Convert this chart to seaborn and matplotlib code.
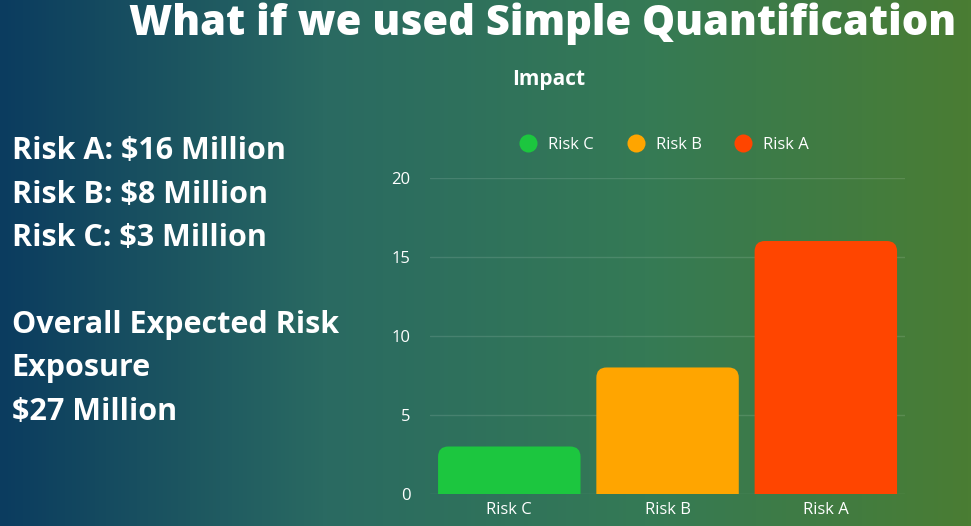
import numpy as np
import pandas as pd
import matplotlib
matplotlib.use("Agg")
import matplotlib.pyplot as plt
from matplotlib.patches import FancyBboxPatch
from matplotlib.lines import Line2D
from matplotlib.colors import LinearSegmentedColormap
import seaborn as sns

# data
risks = ["Risk C", "Risk B", "Risk A"]
impact = [3, 8, 16]
bar_colors = ["#1cc63f", "#ffa500", "#ff4500"]
y_ticks = [0, 5, 10, 15, 20]
side_lines = ["Risk A: $16 Million", "Risk B: $8 Million", "Risk C: $3 Million", "",
              "Overall Expected Risk", "Exposure", "$27 Million"]

sns.set_theme(style="white")
plt.rcParams['font.family'] = ['Open Sans', 'DejaVu Sans']

fig = plt.figure(figsize=(9.71, 5.26), dpi=100)

# gradient background
bg = fig.add_axes([0, 0, 1, 1])
cmap = LinearSegmentedColormap.from_list("bg", ["#0b3c5f", "#2a6a62", "#357a55", "#4a7d33"])
bg.imshow(np.linspace(0, 1, 256).reshape(1, -1), aspect="auto", cmap=cmap, extent=[0, 1, 0, 1])
bg.axis("off")

fig.text(0.985, 0.955, "What if we used Simple Quantification", ha="right", va="center",
         color="white", fontsize=30, fontweight="heavy")
fig.text(0.565, 0.848, "Impact", ha="center", va="center", color="white", fontsize=15, fontweight="bold")

for i, line in enumerate(side_lines):
    fig.text(0.012, 0.712 - i * 0.0825, line, ha="left", va="center", color="white",
             fontsize=22, fontweight="bold")

ax = fig.add_axes([0.443, 0.061, 0.489, 0.601])
df = pd.DataFrame({"risk": risks, "impact": impact})
sns.barplot(data=df, x="risk", y="impact", hue="risk", palette=bar_colors, width=0.9,
            legend=False, ax=ax)
# swap bars for rounded-top versions (bottom corners pushed below the axis and clipped)
for p, c in zip(list(ax.patches), bar_colors):
    x, w, h = p.get_x(), p.get_width(), p.get_height()
    p.set_visible(False)
    ax.add_patch(FancyBboxPatch((x, -1), w, h + 1, boxstyle="round,pad=0,rounding_size=0.065",
                                mutation_aspect=10, fc=c, ec="none", zorder=2))
ax.set_facecolor("none")
ax.set_ylim(0, 20)
ax.set_xlim(-0.5, 2.5)
ax.set_yticks(y_ticks)
ax.grid(axis="y", color="white", alpha=0.12, lw=1)
ax.set_axisbelow(True)
for s in ax.spines.values():
    s.set_visible(False)
ax.set_xlabel("")
ax.set_ylabel("")
ax.tick_params(colors="white", labelsize=12, length=0)
ax.tick_params(axis="y", pad=14)
ax.tick_params(axis="x", pad=6)

handles = [Line2D([], [], marker="o", ls="", markersize=13, markerfacecolor=c, markeredgecolor="none")
           for c in bar_colors]
fig.legend(handles, risks, loc="center", bbox_to_anchor=(0.68, 0.724), ncol=3, frameon=False,
           labelcolor="white", fontsize=12, handletextpad=0.2, columnspacing=1.5)

fig.savefig("out.png", dpi=100)
